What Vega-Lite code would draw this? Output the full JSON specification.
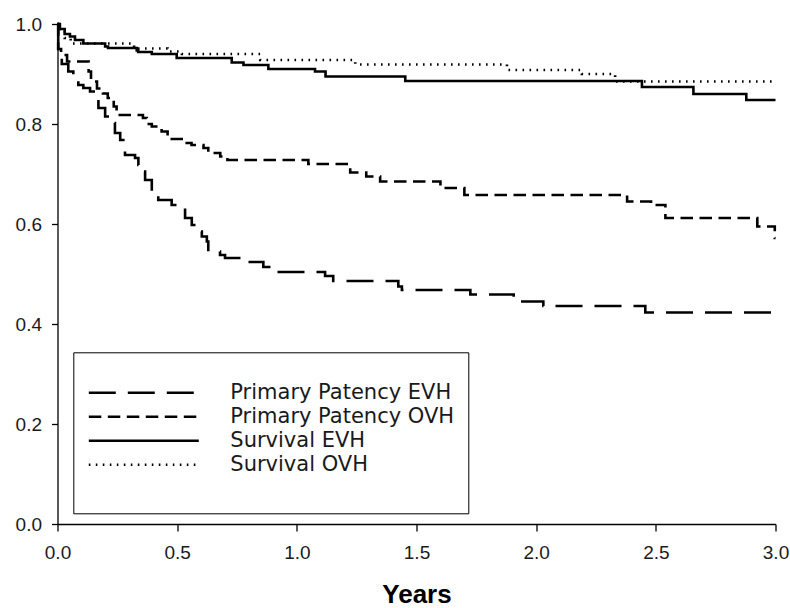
{
  "$schema": "https://vega.github.io/schema/vega-lite/v6.json",
  "width": 718,
  "height": 500,
  "autosize": {"type": "none"},
  "padding": {"left": 57.5, "top": 24, "right": 14.5, "bottom": 84},
  "background": "white",
  "config": {
    "view": {"stroke": null},
    "font": "Liberation Sans",
    "axis": {
      "grid": false,
      "domainColor": "black",
      "domainWidth": 1.3,
      "tickColor": "black",
      "tickWidth": 1.3,
      "labelFont": "Liberation Sans",
      "labelFontSize": 19,
      "labelColor": "#1a1a1a",
      "labelFlush": false,
      "labelOverlap": false
    },
    "legend": {
      "symbolStrokeColor": "black",
      "symbolType": "stroke",
      "symbolSize": 12100,
      "labelFont": "DejaVu Sans",
      "labelFontSize": 21,
      "labelColor": "#1a1a1a",
      "labelOffset": 30,
      "labelLimit": 400,
      "clipHeight": 21
    }
  },
  "data": {
    "values": [
      {"series": "Primary Patency EVH", "t": 0, "s": 1.0},
      {"series": "Primary Patency EVH", "t": 0.003, "s": 0.94},
      {"series": "Primary Patency EVH", "t": 0.018, "s": 0.92},
      {"series": "Primary Patency EVH", "t": 0.045, "s": 0.905},
      {"series": "Primary Patency EVH", "t": 0.066, "s": 0.895},
      {"series": "Primary Patency EVH", "t": 0.087, "s": 0.878},
      {"series": "Primary Patency EVH", "t": 0.108, "s": 0.872},
      {"series": "Primary Patency EVH", "t": 0.136, "s": 0.865},
      {"series": "Primary Patency EVH", "t": 0.157, "s": 0.852},
      {"series": "Primary Patency EVH", "t": 0.171, "s": 0.832},
      {"series": "Primary Patency EVH", "t": 0.199, "s": 0.815},
      {"series": "Primary Patency EVH", "t": 0.219, "s": 0.802},
      {"series": "Primary Patency EVH", "t": 0.24, "s": 0.782},
      {"series": "Primary Patency EVH", "t": 0.262, "s": 0.768},
      {"series": "Primary Patency EVH", "t": 0.275, "s": 0.745},
      {"series": "Primary Patency EVH", "t": 0.282, "s": 0.738},
      {"series": "Primary Patency EVH", "t": 0.324, "s": 0.732},
      {"series": "Primary Patency EVH", "t": 0.338, "s": 0.718},
      {"series": "Primary Patency EVH", "t": 0.359, "s": 0.705},
      {"series": "Primary Patency EVH", "t": 0.366, "s": 0.688},
      {"series": "Primary Patency EVH", "t": 0.394, "s": 0.665},
      {"series": "Primary Patency EVH", "t": 0.421, "s": 0.648},
      {"series": "Primary Patency EVH", "t": 0.477, "s": 0.638},
      {"series": "Primary Patency EVH", "t": 0.519, "s": 0.632},
      {"series": "Primary Patency EVH", "t": 0.533, "s": 0.612},
      {"series": "Primary Patency EVH", "t": 0.561, "s": 0.598},
      {"series": "Primary Patency EVH", "t": 0.589, "s": 0.585},
      {"series": "Primary Patency EVH", "t": 0.603, "s": 0.575},
      {"series": "Primary Patency EVH", "t": 0.624, "s": 0.565},
      {"series": "Primary Patency EVH", "t": 0.63, "s": 0.545},
      {"series": "Primary Patency EVH", "t": 0.679, "s": 0.538},
      {"series": "Primary Patency EVH", "t": 0.7, "s": 0.532},
      {"series": "Primary Patency EVH", "t": 0.791, "s": 0.524},
      {"series": "Primary Patency EVH", "t": 0.86, "s": 0.514},
      {"series": "Primary Patency EVH", "t": 0.916, "s": 0.504},
      {"series": "Primary Patency EVH", "t": 1.118, "s": 0.496},
      {"series": "Primary Patency EVH", "t": 1.152, "s": 0.486},
      {"series": "Primary Patency EVH", "t": 1.424, "s": 0.475},
      {"series": "Primary Patency EVH", "t": 1.439, "s": 0.468},
      {"series": "Primary Patency EVH", "t": 1.725, "s": 0.459},
      {"series": "Primary Patency EVH", "t": 1.906, "s": 0.445},
      {"series": "Primary Patency EVH", "t": 2.03, "s": 0.436},
      {"series": "Primary Patency EVH", "t": 2.456, "s": 0.423},
      {"series": "Primary Patency EVH", "t": 3.0, "s": 0.423},

      {"series": "Primary Patency OVH", "t": 0, "s": 1.0},
      {"series": "Primary Patency OVH", "t": 0.003, "s": 0.95},
      {"series": "Primary Patency OVH", "t": 0.015, "s": 0.938},
      {"series": "Primary Patency OVH", "t": 0.04, "s": 0.925},
      {"series": "Primary Patency OVH", "t": 0.13, "s": 0.905},
      {"series": "Primary Patency OVH", "t": 0.14, "s": 0.885},
      {"series": "Primary Patency OVH", "t": 0.165, "s": 0.871},
      {"series": "Primary Patency OVH", "t": 0.19, "s": 0.861},
      {"series": "Primary Patency OVH", "t": 0.21, "s": 0.852},
      {"series": "Primary Patency OVH", "t": 0.235, "s": 0.835},
      {"series": "Primary Patency OVH", "t": 0.247, "s": 0.818},
      {"series": "Primary Patency OVH", "t": 0.357, "s": 0.812},
      {"series": "Primary Patency OVH", "t": 0.373, "s": 0.8},
      {"series": "Primary Patency OVH", "t": 0.394, "s": 0.795},
      {"series": "Primary Patency OVH", "t": 0.435, "s": 0.785},
      {"series": "Primary Patency OVH", "t": 0.46, "s": 0.77},
      {"series": "Primary Patency OVH", "t": 0.54, "s": 0.762},
      {"series": "Primary Patency OVH", "t": 0.56, "s": 0.758},
      {"series": "Primary Patency OVH", "t": 0.61, "s": 0.752},
      {"series": "Primary Patency OVH", "t": 0.63, "s": 0.742},
      {"series": "Primary Patency OVH", "t": 0.68, "s": 0.735},
      {"series": "Primary Patency OVH", "t": 0.71, "s": 0.728},
      {"series": "Primary Patency OVH", "t": 1.048, "s": 0.72},
      {"series": "Primary Patency OVH", "t": 1.223, "s": 0.703},
      {"series": "Primary Patency OVH", "t": 1.29, "s": 0.695},
      {"series": "Primary Patency OVH", "t": 1.348, "s": 0.685},
      {"series": "Primary Patency OVH", "t": 1.6, "s": 0.672},
      {"series": "Primary Patency OVH", "t": 1.7, "s": 0.658},
      {"series": "Primary Patency OVH", "t": 2.38, "s": 0.645},
      {"series": "Primary Patency OVH", "t": 2.48, "s": 0.638},
      {"series": "Primary Patency OVH", "t": 2.54, "s": 0.612},
      {"series": "Primary Patency OVH", "t": 2.924, "s": 0.595},
      {"series": "Primary Patency OVH", "t": 2.997, "s": 0.572},
      {"series": "Primary Patency OVH", "t": 3.0, "s": 0.572},

      {"series": "Survival EVH", "t": 0, "s": 1.0},
      {"series": "Survival EVH", "t": 0.01, "s": 0.99},
      {"series": "Survival EVH", "t": 0.03, "s": 0.98},
      {"series": "Survival EVH", "t": 0.052, "s": 0.975},
      {"series": "Survival EVH", "t": 0.073, "s": 0.968},
      {"series": "Survival EVH", "t": 0.108, "s": 0.961},
      {"series": "Survival EVH", "t": 0.199, "s": 0.955},
      {"series": "Survival EVH", "t": 0.211, "s": 0.952},
      {"series": "Survival EVH", "t": 0.331, "s": 0.947},
      {"series": "Survival EVH", "t": 0.337, "s": 0.944},
      {"series": "Survival EVH", "t": 0.394, "s": 0.94},
      {"series": "Survival EVH", "t": 0.498, "s": 0.932},
      {"series": "Survival EVH", "t": 0.728, "s": 0.923},
      {"series": "Survival EVH", "t": 0.777, "s": 0.918},
      {"series": "Survival EVH", "t": 0.881, "s": 0.91},
      {"series": "Survival EVH", "t": 1.076, "s": 0.905},
      {"series": "Survival EVH", "t": 1.12, "s": 0.895},
      {"series": "Survival EVH", "t": 1.453, "s": 0.886},
      {"series": "Survival EVH", "t": 2.442, "s": 0.874},
      {"series": "Survival EVH", "t": 2.657, "s": 0.86},
      {"series": "Survival EVH", "t": 2.878, "s": 0.848},
      {"series": "Survival EVH", "t": 3.0, "s": 0.848},

      {"series": "Survival OVH", "t": 0, "s": 1.0},
      {"series": "Survival OVH", "t": 0.01, "s": 0.985},
      {"series": "Survival OVH", "t": 0.03, "s": 0.972},
      {"series": "Survival OVH", "t": 0.055, "s": 0.961},
      {"series": "Survival OVH", "t": 0.32, "s": 0.951},
      {"series": "Survival OVH", "t": 0.46, "s": 0.945},
      {"series": "Survival OVH", "t": 0.52, "s": 0.94},
      {"series": "Survival OVH", "t": 0.847, "s": 0.928},
      {"series": "Survival OVH", "t": 1.244, "s": 0.919},
      {"series": "Survival OVH", "t": 1.878, "s": 0.908},
      {"series": "Survival OVH", "t": 2.191, "s": 0.9},
      {"series": "Survival OVH", "t": 2.33, "s": 0.885},
      {"series": "Survival OVH", "t": 3.0, "s": 0.885}
    ]
  },
  "mark": {"type": "line", "interpolate": "step-after", "color": "black", "strokeCap": "butt"},
  "encoding": {
    "x": {
      "field": "t",
      "type": "quantitative",
      "scale": {"domain": [0, 3], "nice": false, "zero": false},
      "axis": {
        "values": [0, 0.5, 1, 1.5, 2, 2.5, 3],
        "format": ".1f",
        "tickSize": 7,
        "labelPadding": 12,
        "title": "Years",
        "titleFont": "Liberation Sans",
        "titleFontSize": 26,
        "titleFontWeight": "bold",
        "titleColor": "black",
        "titlePadding": 19
      }
    },
    "y": {
      "field": "s",
      "type": "quantitative",
      "scale": {"domain": [0, 1], "nice": false},
      "axis": {
        "values": [0, 0.2, 0.4, 0.6, 0.8, 1.0],
        "format": ".1f",
        "tickSize": 6,
        "labelPadding": 10,
        "title": null
      }
    },
    "strokeDash": {
      "field": "series",
      "type": "nominal",
      "scale": {
        "domain": ["Primary Patency EVH", "Primary Patency OVH", "Survival EVH", "Survival OVH", " "],
        "range": [[27, 12], [12.5, 6.5], [1, 0], [1.6, 5.4], [0, 200]]
      },
      "legend": {
        "title": " ",
        "titleFontSize": 8,
        "titlePadding": 8,
        "orient": "none",
        "legendX": 15.8,
        "legendY": 328.3,
        "padding": 14,
        "strokeColor": "black",
        "fillColor": "white"
      }
    },
    "strokeWidth": {
      "field": "series",
      "type": "nominal",
      "scale": {
        "domain": ["Primary Patency EVH", "Primary Patency OVH", "Survival EVH", "Survival OVH", " "],
        "range": [2.6, 2.6, 2.6, 1.6, 1]
      }
    }
  }
}
